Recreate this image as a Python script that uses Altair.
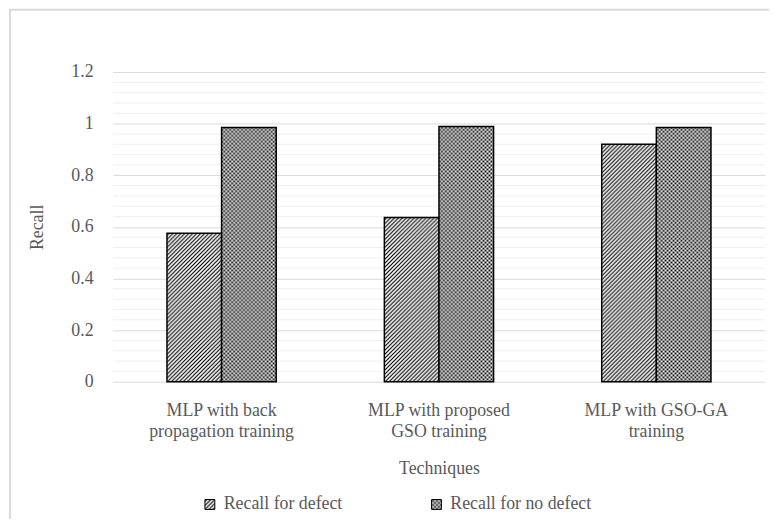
import altair as alt
import pandas as pd
import jinja2
from altair.utils.html import HTML_TEMPLATE

# ---------------- data ----------------
categories = [
    "MLP with back\npropagation training",
    "MLP with proposed\nGSO training",
    "MLP with GSO-GA\ntraining",
]
series_names = ["Recall for defect", "Recall for no defect"]
recall_defect = [0.575, 0.636, 0.92]
recall_no_defect = [0.985, 0.989, 0.985]
y_ticks = [0, 0.2, 0.4, 0.6, 0.8, 1, 1.2]
minor_grid = [0.04, 0.08, 0.12, 0.16, 0.24, 0.28, 0.32, 0.36, 0.44, 0.48, 0.52, 0.56,
              0.64, 0.68, 0.72, 0.76, 0.84, 0.88, 0.92, 0.96, 1.04, 1.08, 1.12, 1.16]

rows = []
for c, a, b in zip(categories, recall_defect, recall_no_defect):
    rows.append({"technique": c, "series": series_names[0], "recall": a})
    rows.append({"technique": c, "series": series_names[1], "recall": b})
df = pd.DataFrame(rows)
grid_df = pd.DataFrame({"recall": minor_grid})

FONT = "Liberation Serif, Times New Roman, serif"
TXT = "#595959"
FS = 18
W, H = 659, 313

y_scale = alt.Scale(domain=[0, 1.2])
y_axis = alt.Axis(
    title="Recall",
    values=y_ticks, format="~g",
    labelFont=FONT, labelFontSize=FS, labelColor=TXT, labelPadding=20,
    titleFont=FONT, titleFontSize=FS, titleColor=TXT, titleFontWeight="normal",
    titleX=-76, titleY=H / 2, titleAngle=270,
    titleAlign="center", titleBaseline="middle",
    domain=False, ticks=False, grid=True, gridColor="#d9d9d9", gridWidth=1,
)

# -------------- layers --------------
minor = alt.Chart(grid_df).mark_rule(color="#efefef", strokeWidth=1).encode(
    y=alt.Y("recall:Q", scale=y_scale, axis=y_axis, title="Recall")
)

bars = alt.Chart(df).mark_bar(stroke="black", strokeWidth=1.5).encode(
    x=alt.X(
        "technique:N",
        sort=categories,
        scale=alt.Scale(paddingInner=0, paddingOuter=0),
        axis=alt.Axis(
            title="Techniques",
            labelExpr="split(datum.value, '\\n')",
            labelAngle=0,
            labelBaseline="top",
            labelPadding=20,
            labelLineHeight=21,
            labelFont=FONT, labelFontSize=FS, labelColor=TXT,
            titleFont=FONT, titleFontSize=FS, titleColor=TXT, titleFontWeight="normal",
            titleX=W / 2, titleY=88, titleBaseline="middle",
            domain=False, ticks=False, grid=False,
        ),
    ),
    xOffset=alt.XOffset("series:N", sort=series_names,
                        scale=alt.Scale(paddingInner=0, paddingOuter=0.99)),
    y=alt.Y("recall:Q", scale=y_scale, axis=y_axis, title="Recall"),
    color=alt.Color(
        "series:N",
        scale=alt.Scale(domain=series_names,
                        range=["url(#hatchDefect)", "url(#checkNoDefect)"]),
        legend=alt.Legend(
            title=None, orient="none", direction="horizontal",
            legendX=89, legendY=428, padding=0,
            symbolType="square", symbolSize=100,
            symbolStrokeColor="black", symbolStrokeWidth=1,
            labelFont=FONT, labelFontSize=FS, labelColor=TXT, labelOffset=5,
            columnPadding=86,
        ),
    ),
)

border = alt.Chart(pd.DataFrame({"o": [0]})).mark_rect(
    fillOpacity=0, stroke="#d9d9d9", strokeWidth=2
).encode(
    x=alt.value(-104), x2=alt.value(720), y=alt.value(-63), y2=alt.value(520)
)

chart = alt.layer(minor, bars, border).properties(
    width=W, height=H,
    autosize=alt.AutoSizeParams(type="none"),
    padding={"left": 106, "top": 62, "right": 4, "bottom": 136},
).configure(background="white", view=alt.ViewConfig(stroke=None))

# ------- page template with the SVG fill patterns -------
DEFS = """<svg width="0" height="0" style="position:absolute"><defs>
<pattern id="hatchDefect" patternUnits="userSpaceOnUse" width="4" height="4">
<rect width="4" height="4" fill="white"/>
<path d="M-1,1 l2,-2 M0,4 l4,-4 M3,5 l2,-2" stroke="black" stroke-width="1.2"/>
</pattern>
<pattern id="checkNoDefect" patternUnits="userSpaceOnUse" width="4" height="4">
<rect width="4" height="4" fill="#8c8c8c"/>
<rect x="0" y="0" width="1" height="1" fill="black"/>
<rect x="2" y="2" width="1" height="1" fill="black"/>
<rect x="2" y="0" width="1" height="1" fill="white"/>
<rect x="0" y="2" width="1" height="1" fill="white"/>
</pattern>
</defs></svg>"""


class PatternTemplate(jinja2.Template):
    def render(self, *args, **kwargs):
        html = HTML_TEMPLATE.render(*args, **kwargs)
        if "<body>" in html:
            return html.replace("<body>", "<body>\n" + DEFS, 1)
        return DEFS + html


page_template = PatternTemplate("{{ spec }}")

chart.save("out.html", embed_options={"renderer": "svg", "actions": False},
           template=page_template)
